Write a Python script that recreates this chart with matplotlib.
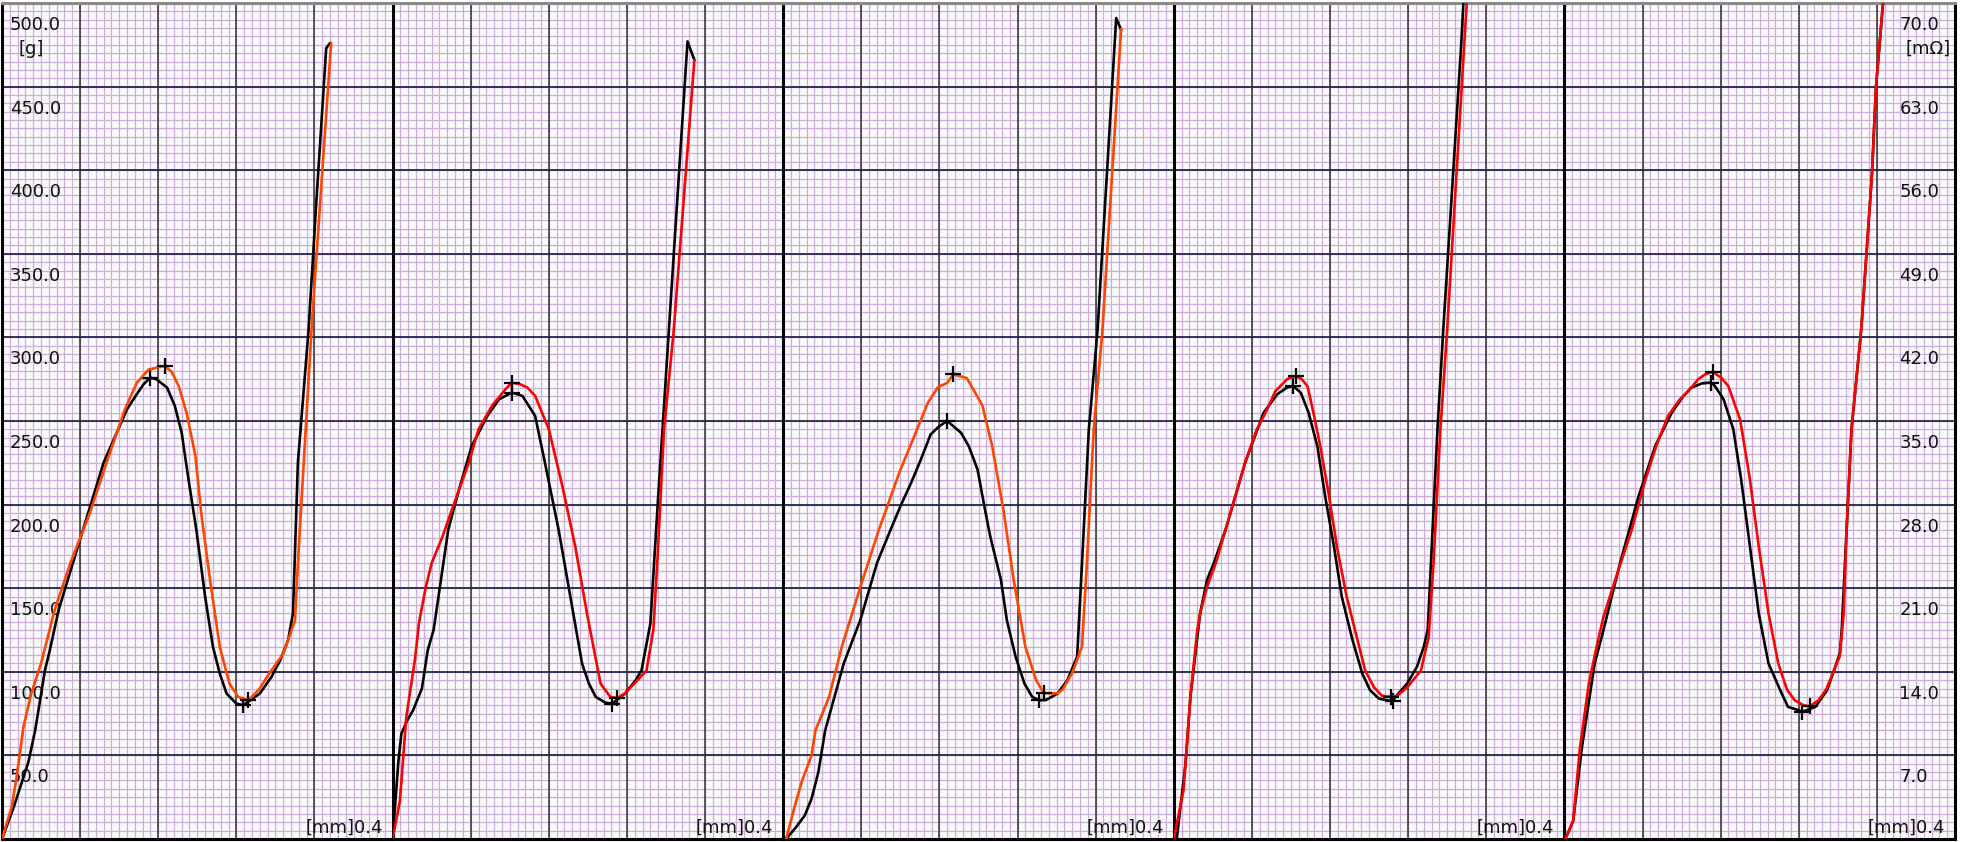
import numpy as np
import matplotlib.pyplot as plt
from matplotlib.transforms import offset_copy

# --- data: stroke [mm], force [g] (black), resistance [mOhm] (red)
force_x_1 = [0.000, 0.012, 0.027, 0.034, 0.044, 0.049, 0.058, 0.083, 0.104, 0.128, 0.138, 0.145, 0.152, 0.158,
             0.169, 0.177, 0.184, 0.191, 0.199, 0.208, 0.216, 0.223, 0.230, 0.240, 0.247, 0.264, 0.276, 0.285,
             0.293, 0.298, 0.303, 0.314, 0.322, 0.332, 0.336]
force_1 = [0, 19, 46, 65, 101, 113, 137, 185, 225, 257, 266, 272, 276, 275, 270, 259, 243, 215, 185, 145, 115,
           99, 87, 81, 80, 87, 97, 107, 119, 135, 225, 305, 382, 473, 476]
res_x_1 = [0.000, 0.010, 0.015, 0.022, 0.030, 0.040, 0.054, 0.070, 0.090, 0.107, 0.126, 0.138, 0.150, 0.160,
           0.167, 0.174, 0.181, 0.189, 0.198, 0.204, 0.213, 0.223, 0.233, 0.242, 0.252, 0.263, 0.274, 0.288,
           0.300, 0.303, 0.309, 0.317, 0.326, 0.337]
res_1 = [0, 2.7, 5.2, 9.4, 12.2, 14.7, 19.2, 23.1, 27.3, 31.5, 36.0, 38.2, 39.3, 39.5, 39.6, 39.1, 37.9, 35.7,
         32.1, 27.3, 21.7, 16.1, 13.0, 11.9, 11.6, 12.5, 13.9, 15.5, 18.3, 23.1, 31.5, 42.7, 53.5, 66.6]

force_x_2 = [0.000, 0.006, 0.009, 0.015, 0.021, 0.030, 0.036, 0.042, 0.047, 0.057, 0.068, 0.081, 0.097, 0.109,
             0.122, 0.133, 0.146, 0.156, 0.170, 0.182, 0.194, 0.201, 0.208, 0.218, 0.225, 0.238, 0.249, 0.255,
             0.264, 0.272, 0.283, 0.302, 0.309]
force_2 = [0, 47, 63, 71, 77, 90, 113, 125, 145, 185, 209, 235, 253, 263, 267, 265, 253, 225, 185, 145, 105,
           93, 85, 81.5, 81, 87, 95, 101, 129, 205, 305, 477, 466]
res_x_2 = [0.000, 0.0075, 0.014, 0.023, 0.027, 0.034, 0.040, 0.051, 0.063, 0.078, 0.088, 0.102, 0.116, 0.122,
           0.130, 0.138, 0.146, 0.160, 0.174, 0.187, 0.199, 0.213, 0.223, 0.230, 0.238, 0.260, 0.267, 0.271,
           0.278, 0.288, 0.309]
res_2 = [0, 3.2, 10.2, 15.1, 18.1, 21.1, 23.1, 25.3, 28.1, 31.5, 34.3, 36.3, 37.7, 38.2, 38.1, 37.8, 37.1,
         34.3, 29.5, 24.5, 18.9, 13.0, 11.9, 11.8, 12.2, 14.1, 17.5, 23.1, 34.3, 42.7, 65.2]

force_x_3 = [0.003, 0.013, 0.022, 0.029, 0.036, 0.043, 0.062, 0.079, 0.096, 0.110, 0.120, 0.131, 0.141, 0.151,
             0.160, 0.168, 0.182, 0.190, 0.199, 0.206, 0.212, 0.223, 0.229, 0.238, 0.247, 0.255, 0.262, 0.269,
             0.281, 0.291, 0.301, 0.306, 0.313, 0.322, 0.341, 0.346]
force_3 = [0, 7, 14, 24, 40, 65, 105, 131, 165, 185, 199, 213, 227, 242, 247, 250, 243, 235, 221, 199, 181, 155,
           131, 109, 93, 85, 83, 83.1, 87, 95, 109, 165, 245, 305, 491, 484]
res_x_3 = [0.003, 0.012, 0.019, 0.029, 0.033, 0.047, 0.060, 0.079, 0.098, 0.119, 0.137, 0.148, 0.158, 0.168,
           0.174, 0.188, 0.204, 0.214, 0.226, 0.236, 0.248, 0.259, 0.267, 0.281, 0.286, 0.296, 0.306, 0.311,
           0.318, 0.327, 0.346]
res_3 = [0, 2.8, 4.8, 7.0, 9.1, 11.9, 16.1, 21.1, 25.9, 30.7, 34.3, 36.5, 37.8, 38.2, 38.9, 38.6, 36.3, 32.9,
         27.3, 21.7, 16.1, 13.3, 12.2, 12.2, 12.5, 13.9, 16.1, 23.1, 34.3, 42.7, 67.8]

force_x_4 = [0.003, 0.012, 0.017, 0.027, 0.034, 0.041, 0.053, 0.073, 0.092, 0.106, 0.116, 0.122, 0.130, 0.138,
             0.147, 0.155, 0.164, 0.172, 0.183, 0.193, 0.201, 0.210, 0.218, 0.224, 0.230, 0.239, 0.249, 0.256,
             0.260, 0.265, 0.270, 0.276, 0.294, 0.297]
force_4 = [0, 45, 85, 135, 155, 165, 185, 225, 255, 266, 270, 271, 267, 255, 235, 205, 175, 145, 119, 99, 89, 84,
           83, 82.5, 87, 93, 103, 115, 125, 185, 245, 305, 472, 505]
res_x_4 = [0.000, 0.010, 0.017, 0.024, 0.027, 0.034, 0.043, 0.053, 0.063, 0.073, 0.085, 0.094, 0.104, 0.116,
           0.125, 0.131, 0.137, 0.143, 0.150, 0.159, 0.167, 0.177, 0.188, 0.196, 0.205, 0.213, 0.222, 0.229,
           0.239, 0.253, 0.261, 0.266, 0.273, 0.280, 0.301]
res_4 = [0, 4.1, 11.9, 17.5, 18.9, 21.1, 23.1, 25.9, 28.7, 31.5, 34.3, 35.7, 37.5, 38.5, 38.8, 38.5, 37.9, 35.7,
         32.9, 28.7, 24.5, 20.3, 16.7, 14.1, 12.7, 12.0, 11.9, 12.0, 12.7, 14.1, 16.9, 23.1, 34.3, 42.7, 71.4]

force_x_5 = [0.001, 0.009, 0.018, 0.031, 0.040, 0.057, 0.076, 0.093, 0.110, 0.122, 0.130, 0.141, 0.150, 0.154,
             0.163, 0.173, 0.181, 0.190, 0.199, 0.209, 0.221, 0.229, 0.240, 0.243, 0.257, 0.269, 0.275, 0.282,
             0.284, 0.289, 0.294, 0.304, 0.315, 0.319, 0.327]
force_5 = [0, 11, 55, 105, 125, 165, 205, 235, 255, 265, 270, 272.5, 273, 271, 263, 245, 215, 175, 135, 105, 89,
           79, 77, 76, 79, 89, 99, 111, 125, 185, 245, 305, 398, 449, 505]
res_x_5 = [0.001, 0.009, 0.016, 0.025, 0.033, 0.040, 0.052, 0.069, 0.083, 0.094, 0.106, 0.118, 0.127, 0.137,
           0.144, 0.152, 0.161, 0.168, 0.180, 0.190, 0.199, 0.209, 0.219, 0.228, 0.236, 0.245, 0.251, 0.260,
           0.268, 0.275, 0.282, 0.286, 0.289, 0.294, 0.304, 0.315, 0.319, 0.327]
res_5 = [0, 1.5, 7.7, 13.0, 16.1, 18.6, 21.7, 25.9, 30.1, 32.9, 35.4, 36.8, 37.5, 38.5, 38.9, 39.1, 38.6, 37.9,
         35.1, 30.1, 24.5, 18.9, 14.7, 12.5, 11.6, 11.2, 11.1, 11.6, 12.5, 13.9, 15.3, 18.9, 25.9, 34.3, 42.7,
         55.7, 62.9, 70.7]

force_x = [force_x_1, force_x_2, force_x_3, force_x_4, force_x_5]
forces = [force_1, force_2, force_3, force_4, force_5]
res_x = [res_x_1, res_x_2, res_x_3, res_x_4, res_x_5]
resistances = [res_1, res_2, res_3, res_4, res_5]
red_colors = ['#ff4500', '#ff0000', '#ff4500', '#ff0000', '#ff0000']

left_labels = ['500.0', '450.0', '400.0', '350.0', '300.0', '250.0', '200.0', '150.0', '100.0', '50.0']
left_values = [500, 450, 400, 350, 300, 250, 200, 150, 100, 50]
right_labels = ['70.0', '63.0', '56.0', '49.0', '42.0', '35.0', '28.0', '21.0', '14.0', '7.0']
right_values = [70, 63, 56, 49, 42, 35, 28, 21, 14, 7]

W, H = 1966, 842
fig = plt.figure(figsize=(W / 100, H / 100), dpi=100)
fig.patch.set_facecolor('white')

panel_w = 390.6
fs = 13


def peak_and_valley(xs, ys):
    ys = np.asarray(ys, dtype=float)
    ip = int(np.argmax(ys[:len(ys) * 3 // 4]))
    iv = ip + int(np.argmin(ys[ip:]))
    return [xs[ip], xs[iv]], [ys[ip], ys[iv]]


for i in range(5):
    ax = fig.add_axes([(2 + i * panel_w) / W, 3 / H, panel_w / W, 836 / H])
    ax.set_facecolor('#fbfafc')
    ax.set_xlim(0, 0.4)
    ax.set_ylim(0, 500)
    ax.set_xticks([])
    ax.set_yticks([])

    # chart-paper grid: minor first, then major on top
    minor_x = np.arange(1, 50) * 0.008
    minor_y = np.arange(1, 100) * 5
    ax.vlines(minor_x, 0, 500, color='#cdaedb', lw=0.9, zorder=0.5)
    ax.hlines(minor_y, 0, 0.4, color='#cdaedb', lw=0.9, zorder=0.5)
    ax.vlines(np.arange(1, 5) * 0.08, 0, 500, color='#303030', lw=1.1, zorder=0.8)
    ax.hlines(np.arange(1, 10) * 50, 0, 0.4, color='#25254c', lw=1.3, zorder=0.8)

    ax.spines['left'].set_color('black')
    ax.spines['left'].set_linewidth(2.2)
    ax.spines['bottom'].set_color('black')
    ax.spines['bottom'].set_linewidth(2.2)
    ax.spines['top'].set_color('#8a8a8a')
    ax.spines['top'].set_linewidth(2.2)
    if i == 4:
        ax.spines['right'].set_color('black')
        ax.spines['right'].set_linewidth(2.2)
    else:
        ax.spines['right'].set_visible(False)

    ax.plot(force_x[i], forces[i], color='black', lw=1.9, zorder=3)
    mx, my = peak_and_valley(force_x[i], forces[i])
    ax.plot(mx, my, 'k+', ms=12, mew=1.6, zorder=4)

    ax2 = ax.twinx()
    ax2.set_ylim(0, 70)
    ax2.set_xlim(0, 0.4)
    ax2.axis('off')
    ax2.plot(res_x[i], resistances[i], color=red_colors[i], lw=1.9, zorder=3)
    rx, ry = peak_and_valley(res_x[i], resistances[i])
    ax2.plot(rx, ry, 'k+', ms=12, mew=1.6, zorder=4)

    ax.text(1 - 10 / panel_w, 6 / 836, '[mm]0.4', transform=ax.transAxes, ha='right', va='baseline',
            fontsize=fs, color='#111111', zorder=2)

    if i == 0:
        tr = offset_copy(ax.get_yaxis_transform(), fig=fig, y=-22, units='dots')
        for v, lab in zip(left_values, left_labels):
            ax.text(8 / panel_w, v, lab, transform=tr, ha='left', va='center', fontsize=fs, color='#111111',
                    zorder=2)
        tr2 = offset_copy(ax.get_yaxis_transform(), fig=fig, y=-46, units='dots')
        ax.text(29 / panel_w, 500, '[g]', transform=tr2, ha='center', va='center', fontsize=fs, color='#111111',
                zorder=2)
    if i == 4:
        tr = offset_copy(ax2.get_yaxis_transform(), fig=fig, y=-22, units='dots')
        for v, lab in zip(right_values, right_labels):
            ax2.text(335 / panel_w, v, lab, transform=tr, ha='left', va='center', fontsize=fs, color='#111111')
        tr2 = offset_copy(ax2.get_yaxis_transform(), fig=fig, y=-46, units='dots')
        ax2.text(364 / panel_w, 70, '[mΩ]', transform=tr2, ha='center', va='center', fontsize=fs,
                 color='#111111')

fig.savefig('out.png', dpi=100)
